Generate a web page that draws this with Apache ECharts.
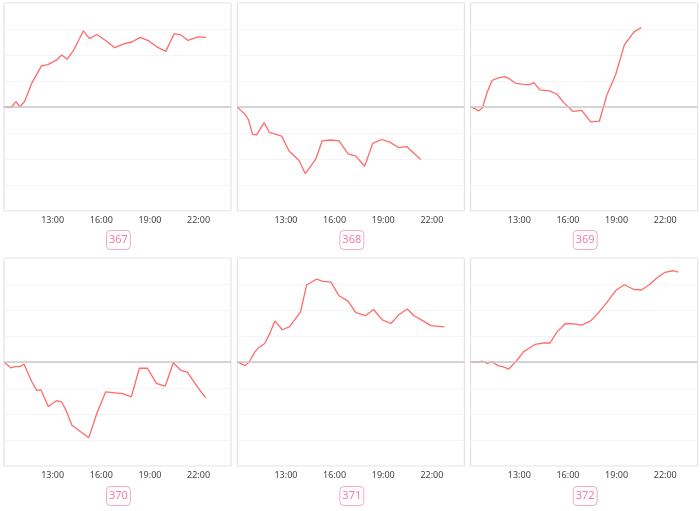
<!DOCTYPE html>
<html>
<head>
<meta charset="utf-8">
<script src="https://cdn.jsdelivr.net/npm/echarts@6/dist/echarts.min.js"></script>
<style>
html,body{margin:0;padding:0;background:#fff;}
#chart{width:700px;height:511px;}
</style>
</head>
<body>
<div id="chart"></div>
<script>
// Panel ids (badges)
const panelIds = ['367', '368', '369', '370', '371', '372'];

// x-axis tick labels (hours)
const tickHours = [13, 16, 19, 22];

// Panel 367
const hours367 = [10,10.48,10.73,10.98,11.27,11.73,12.31,12.71,13.23,13.56,13.9,14.31,14.9,15.27,15.73,16.27,16.83,17.4,17.88,18.4,18.94,19.48,19.98,20.48,20.9,21.35,21.98,22.46];
const values367 = [0,0,0.21,0.01,0.21,0.94,1.58,1.63,1.8,2.0,1.84,2.2,2.93,2.63,2.79,2.56,2.28,2.43,2.5,2.68,2.54,2.29,2.14,2.81,2.78,2.56,2.7,2.68];

// Panel 368
const hours368 = [10,10.21,10.48,10.69,10.94,11.19,11.65,11.98,12.4,12.73,13.19,13.81,14.19,14.85,15.23,15.73,16.27,16.83,17.31,17.85,18.35,18.9,19.4,19.94,20.44,21.31];
const values368 = [0,-0.13,-0.28,-0.49,-1.05,-1.07,-0.6,-0.98,-1.05,-1.12,-1.69,-2.06,-2.57,-1.99,-1.3,-1.27,-1.3,-1.8,-1.89,-2.28,-1.4,-1.25,-1.35,-1.56,-1.52,-2.02];

// Panel 369
const hours369 = [10,10.23,10.48,10.73,11.02,11.31,11.69,12.1,12.4,12.77,13.15,13.6,13.9,14.27,14.85,15.31,15.77,16.31,16.85,17.4,17.94,18.4,18.94,19.48,20.06,20.52];
const values369 = [0,-0.05,-0.15,-0.03,0.57,1.02,1.12,1.17,1.08,0.91,0.88,0.85,0.94,0.66,0.62,0.5,0.15,-0.17,-0.13,-0.57,-0.54,0.46,1.24,2.39,2.88,3.06];

// Panel 370
const hours370 = [10,10.44,10.69,10.98,11.23,11.69,12.02,12.27,12.73,13.23,13.56,13.85,14.19,15.23,15.73,16.27,17.31,17.85,18.35,18.85,19.4,19.94,20.44,20.9,21.31,21.94,22.44];
const values370 = [0,-0.23,-0.18,-0.18,-0.08,-0.73,-1.09,-1.07,-1.71,-1.49,-1.54,-1.89,-2.43,-2.91,-1.97,-1.15,-1.22,-1.34,-0.24,-0.24,-0.82,-0.93,-0.03,-0.32,-0.39,-0.97,-1.38];

// Panel 371
const hours371 = [10,10.23,10.48,10.73,11.06,11.35,11.69,12.02,12.31,12.77,13.23,13.52,13.9,14.27,14.9,15.27,15.77,16.27,16.83,17.31,17.9,18.4,18.94,19.48,19.98,20.48,20.9,21.4,21.94,22.77];
const values371 = [0,-0.06,-0.14,0,0.37,0.57,0.71,1.12,1.58,1.24,1.36,1.61,1.93,2.96,3.19,3.1,3.07,2.55,2.34,1.9,1.78,2.02,1.62,1.48,1.83,2.04,1.78,1.6,1.4,1.35];

// Panel 372
const hours372 = [10,10.48,10.73,11.02,11.31,11.69,11.98,12.35,12.77,13.27,13.6,13.98,14.44,14.9,15.31,15.85,16.35,16.85,17.4,17.85,18.4,18.98,19.48,20.06,20.52,21.02,21.48,21.98,22.48,22.81];
const values372 = [0,0,0.03,-0.05,0.01,-0.14,-0.18,-0.27,0,0.4,0.53,0.68,0.73,0.73,1.15,1.48,1.47,1.42,1.58,1.87,2.29,2.77,2.97,2.79,2.77,2.97,3.23,3.45,3.51,3.46];

const panelHours = [hours367, hours368, hours369, hours370, hours371, hours372];
const panelValues = [values367, values368, values369, values370, values371, values372];

const LINE_COLOR = '#ff6b6b';
const BADGE_COLOR = '#f27ea0';
const BADGE_BORDER = '#f7a8bf';

const cellW = 700 / 3;
const grids = [], xAxes = [], yAxes = [], series = [], titles = [];

panelIds.forEach((id, i) => {
  const col = i % 3, row = Math.floor(i / 3);
  const left = col * cellW + 4;
  const top = row === 0 ? 3 : 258;
  grids.push({
    left: left, top: top, width: 227, height: 208,
    show: true, borderColor: '#dedede', borderWidth: 1, backgroundColor: '#fff'
  });
  xAxes.push({
    type: 'value', gridIndex: i, min: 10, max: 24, interval: 3,
    axisLine: { show: false }, axisTick: { show: false },
    splitLine: { show: false },
    axisLabel: {
      color: '#444', fontSize: 9, margin: 5, fontFamily: 'Noto Sans',
      showMinLabel: false, showMaxLabel: false,
      formatter: v => (tickHours.indexOf(v) >= 0 ? v + ':00' : '')
    }
  });
  yAxes.push({
    type: 'value', gridIndex: i, min: -4, max: 4, interval: 1,
    axisLine: { show: false }, axisTick: { show: false },
    axisLabel: { show: false },
    splitLine: { show: true, lineStyle: { color: '#f4f4f4', width: 1 } }
  });
  const data = panelHours[i].map((h, k) => [h, panelValues[i][k]]);
  series.push({
    type: 'line', xAxisIndex: i, yAxisIndex: i, data: data,
    showSymbol: false, symbol: 'none',
    lineStyle: { color: LINE_COLOR, width: 1.3 },
    markLine: {
      silent: true, symbol: 'none', label: { show: false },
      lineStyle: { color: '#c8c8c8', width: 1.5, type: 'solid' },
      data: [{ yAxis: 0 }],
      animation: false
    },
    animation: false
  });
  const cx = col * cellW + 117;
  titles.push({
    text: id,
    left: cx - 11,
    top: row === 0 ? 230 : 486,
    padding: [4, 3],
    borderColor: BADGE_BORDER, borderWidth: 1, borderRadius: 4,
    textStyle: { color: BADGE_COLOR, fontSize: 11, fontWeight: 'normal', fontFamily: 'Noto Sans', lineHeight: 12 }
  });
});

const chart = echarts.init(document.getElementById('chart'), null, { renderer: 'canvas' });
chart.setOption({
  animation: false,
  backgroundColor: '#fff',
  title: titles,
  grid: grids,
  xAxis: xAxes,
  yAxis: yAxes,
  series: series
});
</script>
</body>
</html>
